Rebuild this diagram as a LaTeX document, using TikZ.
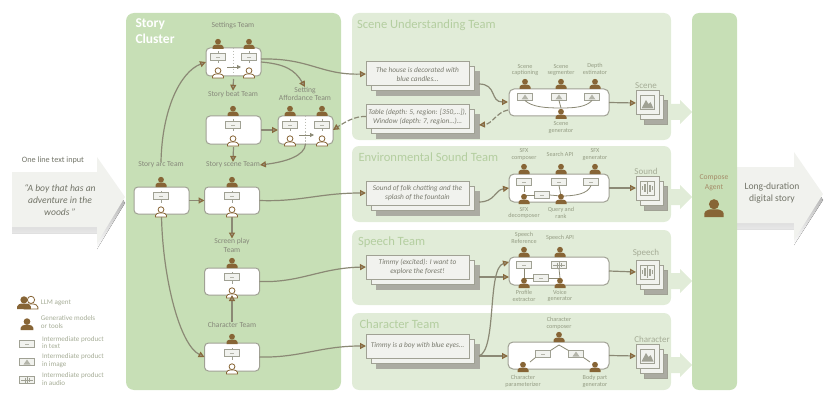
\documentclass[tikz,border=0pt]{standalone}
\usepackage{fontspec}
\setmainfont{Carlito}
\usetikzlibrary{arrows.meta,calc}
\definecolor{cluster}{HTML}{C7DFB6}
\definecolor{panel}{HTML}{E1ECD8}
\definecolor{paneltxt}{HTML}{B4CEA0}
\definecolor{brownc}{HTML}{876536}
\definecolor{linec}{HTML}{8B8975}
\definecolor{framec}{HTML}{A0A194}
\definecolor{paper}{HTML}{F1F2EE}
\definecolor{shade}{HTML}{D9DBD2}
\definecolor{back}{HTML}{ABABA2}
\definecolor{teamtxt}{HTML}{86887A}
\definecolor{tooltxt}{HTML}{959D84}
\tikzset{
  x=1pt,y=-1pt,
  every node/.style={inner sep=0pt,outer sep=0pt,align=center},
  conn/.style={draw=linec,line width=1.2pt,-{Triangle[length=6pt,width=6pt,fill=linec!85!white,color=brownc!85!linec]}},
  thin conn/.style={draw=linec,line width=.8pt},
  tie/.style={draw=framec,line width=.6pt},
  bigpanel/.style={fill=panel,rounded corners=7pt},
  teambox/.style={draw=framec,fill=white,line width=1pt,rounded corners=4pt,minimum width=55pt,minimum height=28pt},
  genbox/.style={draw=framec,fill=white,line width=1pt,rounded corners=5pt,minimum width=100pt,minimum height=28pt},
  teamlab/.style={text=teamtxt,font=\fontsize{7.6}{8.6}\selectfont},
  toollab/.style={text=tooltxt,font=\fontsize{6.2}{6.6}\selectfont},
  paneltitle/.style={anchor=west,text=paneltxt,font=\fontsize{12.6}{14}\selectfont},
  outlab/.style={text=tooltxt!85!white,font=\fontsize{9}{10}\selectfont},
  sheet/.style={draw=framec,line width=1pt,minimum width=103pt,minimum height=24pt},
  outsheet/.style={draw=framec,line width=1pt,minimum width=23pt,minimum height=24pt},
  prod/.style={draw=framec,fill=paper,line width=.8pt,minimum width=15pt,minimum height=7pt},
  storytxt/.style={text=teamtxt!90!black,font=\fontsize{7.35}{9}\selectfont\itshape},
  legtxt/.style={anchor=west,align=left,text=tooltxt!85!white,font=\fontsize{7.1}{7.6}\selectfont},
}
\newcommand{\tool}[3][1]{\begin{scope}[shift={(#2,#3)},scale=#1]
  \fill[brownc] (0,-7.3) circle (2.9);
  \fill[brownc] (-5.5,0) -- (-5.5,-2) .. controls (-5.5,-3.6) and (-3,-4.2) .. (-2,-4.4) -- (2,-4.4) .. controls (3,-4.2) and (5.5,-3.6) .. (5.5,-2) -- (5.5,0) -- cycle;
\end{scope}}
\newcommand{\llm}[3][1]{\begin{scope}[shift={(#2,#3)},scale=#1]
  \filldraw[fill=white,draw=brownc,line width=.8pt] (0,-7.3) circle (2.9);
  \filldraw[fill=white,draw=brownc,line width=.8pt] (-5.5,0) -- (-5.5,-1.6) .. controls (-5.5,-3.2) and (-3,-3.8) .. (-2,-4) -- (2,-4) .. controls (3,-3.8) and (5.5,-3.2) .. (5.5,-1.6) -- (5.5,0) -- cycle;
\end{scope}}
\newcommand{\ptxt}[3]{\node[prod] (#1) at (#2,#3) {};
  \draw[framec!80!white,line width=.5pt] ($(#1)+(-2,0)$) -- ($(#1)+(2,0)$);}
\newcommand{\pimg}[3]{\node[prod] (#1) at (#2,#3) {};
  \fill[framec!80!white] ($(#1)+(-3.5,2.5)$) -- ($(#1)+(0,-2.5)$) -- ($(#1)+(3.5,2.5)$) -- cycle;}
\newcommand{\paud}[3]{\node[prod] (#1) at (#2,#3) {};
  \draw[framec,line width=.5pt] ($(#1)+(-6,0)$) -- ($(#1)+(6,0)$);
  \draw[framec,line width=.9pt] ($(#1)+(-1.5,-2.5)$) -- ($(#1)+(-1.5,2.5)$) ($(#1)+(0.5,-3)$) -- ($(#1)+(0.5,3)$) ($(#1)+(2.5,-2)$) -- ($(#1)+(2.5,2)$);}
\newcommand{\tied}[1]{\draw[tie] (#1.north) -- ++(0,-2) (#1.south) -- ++(0,3);}
\newcommand{\stack}[4]{
  \node[sheet,fill=back,draw=back] (#1c) at ($(#2,#3)+(10,10)$) {};
  \node[sheet,fill=paper] (#1b) at ($(#2,#3)+(5,5)$) {};
  \node[sheet,fill=paper,storytxt] (#1) at (#2,#3) {#4};}
\newcommand{\outstack}[3]{
  \node[outsheet,fill=back,draw=framec] (#1c) at ($(#2,#3)+(8,10)$) {};
  \node[outsheet,fill=paper] (#1b) at ($(#2,#3)+(4,5)$) {};
  \node[outsheet,fill=paper] (#1) at (#2,#3) {};
  \draw[framec,line width=1pt,fill=paper] ($(#1)+(-7,-7)$) rectangle ($(#1)+(7,7)$);}
\newcommand{\outimg}[1]{
  \fill[framec] ($(#1)+(-6,5.5)$) -- ($(#1)+(-1.5,-3)$) -- ($(#1)+(1,1)$) -- ($(#1)+(3,-1)$) -- ($(#1)+(6,5.5)$) -- cycle;}
\newcommand{\outaud}[1]{
  \draw[framec,line width=1.1pt] ($(#1)+(-5,-2)$) -- ($(#1)+(-5,2)$) ($(#1)+(-2.5,-4)$) -- ($(#1)+(-2.5,4)$) ($(#1)+(0,-6)$) -- ($(#1)+(0,6)$) ($(#1)+(2.5,-3.5)$) -- ($(#1)+(2.5,3.5)$) ($(#1)+(5,-2)$) -- ($(#1)+(5,2)$);}
\newcommand{\bigarrow}[1]{
  \fill[panel] (665,#1-8) -- (680,#1-8) -- (680,#1-12) -- (692,#1) -- (680,#1+12) -- (680,#1+8) -- (665,#1+8) -- cycle;}
\begin{document}
\begin{tikzpicture}
\useasboundingbox (0,0) rectangle (831,404);
\fill[shade] (12,178) -- (97,178) -- (97,163) -- (125,203) -- (97,249) -- (97,233) -- (12,233) -- cycle;
\fill[paper] (12,172) -- (97,172) -- (97,157) -- (125,197) -- (97,243) -- (97,227) -- (12,227) -- cycle;
\fill[shade] (737,173) -- (794,173) -- (794,158) -- (823,200) -- (794,245) -- (794,229) -- (737,229) -- cycle;
\fill[paper] (737,167) -- (794,167) -- (794,152) -- (823,194) -- (794,240) -- (794,223) -- (737,223) -- cycle;
\bigarrow{112}\bigarrow{197}\bigarrow{281}\bigarrow{365}
\node[fill=cluster,rounded corners=8pt,minimum width=215pt,minimum height=377pt] (cluster) at (233.5,201.5) {};
\node[bigpanel,minimum width=319pt,minimum height=127pt] (pscene) at (511.5,76.5) {};
\node[bigpanel,minimum width=319pt,minimum height=76pt] (psound) at (511.5,184) {};
\node[bigpanel,minimum width=319pt,minimum height=75pt] (pspeech) at (511.5,267.5) {};
\node[bigpanel,minimum width=319pt,minimum height=77pt] (pchar) at (511.5,351.5) {};
\node[fill=cluster,rounded corners=7pt,minimum width=45pt,minimum height=377pt] (compose) at (714.5,201.5) {};
\node[anchor=north west,align=left,text=white,font=\fontsize{13.5}{16}\bfseries\selectfont] (ctitle) at (135.5,18.5) {Story\\Cluster};
\node[paneltitle] (t1) at (357,25) {Scene Understanding Team};
\node[paneltitle] (t2) at (358.5,157) {Environmental Sound Team};
\node[paneltitle] (t3) at (358,242) {Speech Team};
\node[paneltitle] (t4) at (359.5,324) {Character Team};
\node[text=teamtxt!85!black,font=\fontsize{8.2}{9}\selectfont] (inlab) at (53,160) {One line text input};
\node[text=teamtxt!85!black,font=\fontsize{9.6}{12}\selectfont\itshape] (intxt) at (60,200) {“A boy that has an\\adventure in the\\woods ”};
\node[text=teamtxt!85!black,font=\fontsize{9.6}{12}\selectfont] (outtxt) at (772,193) {Long-duration\\digital story};
\node[text=brownc!75!white,font=\fontsize{7.6}{10.2}\selectfont] (comptxt) at (714,183) {Compose\\Agent};
\tool[1.75]{714}{217}
\node[teamlab] (lset) at (233,26) {Settings Team};
\node[teamlab] (lbeat) at (233,94) {Story beat Team};
\node[teamlab] (laff) at (305,94) {Setting\\Affordance Team};
\node[teamlab] (larc) at (161,165) {Story arc Team};
\node[teamlab] (lscene) at (233,165) {Story scene Team};
\node[teamlab] (lplay) at (232,245.5) {Screen play\\Team};
\node[teamlab] (lchar) at (232,325) {Character Team};
\node[teambox] (settings) at (233.5,62) {};
\node[teambox] (beat) at (233.5,130) {};
\node[teambox] (aff) at (305.5,130) {};
\node[teambox,minimum height=27pt] (arc) at (161.5,200.5) {};
\node[teambox,minimum height=27pt] (scenet) at (232,200.5) {};
\node[teambox,minimum height=27pt] (play) at (232,281.5) {};
\node[teambox] (chart) at (232,357) {};
\draw[framec!70!white,line width=.6pt,dash pattern=on 1.5pt off 1.5pt] (settings.north) -- (settings.south);
\draw[framec!70!white,line width=.6pt,dash pattern=on 1.5pt off 1.5pt] (aff.north) -- (aff.south);
\tool{218}{49}\tool{249}{49}
\ptxt{s1}{218}{57}\ptxt{s2}{249}{57}\tied{s1}\tied{s2}
\llm{218}{78}\llm{249}{78}
\coordinate (s1a) at (227,67); \coordinate (s2a) at (241,67);
\draw[thin conn,-{Triangle[length=4pt,width=4pt]}] (s1a) -- (s2a);
\tool{233}{116}\ptxt{b1}{233}{125}\tied{b1}\llm{233}{146}
\tool{290}{116}\tool{322}{116}
\ptxt{a1}{290}{125}\ptxt{a2}{322}{125}\tied{a1}\tied{a2}
\llm{290}{146}\llm{322}{146}
\coordinate (a1a) at (299,135); \coordinate (a2a) at (314,135);
\draw[thin conn,-{Triangle[length=4pt,width=4pt]}] (a1a) -- (a2a);
\tool{161}{187}\ptxt{c1}{161}{196}\tied{c1}\llm{161}{217}
\tool{232}{187}\ptxt{c2}{232}{196}\tied{c2}\llm{232}{217}
\tool{232}{268}\ptxt{c3}{232}{277}\tied{c3}\llm{232}{298}
\tool{232}{344}\ptxt{c4}{232}{353}\tied{c4}\llm{232}{374}
\stack{d1}{417.5}{74}{The house is decorated with\\blue candles…}
\stack{d2}{417.5}{116.5}{Table (depth: 5, region: [350,…]),\\Window (depth: 7, region…)…}
\stack{d3}{417.5}{193}{Sound of folk chatting and the\\splash of the fountain}
\stack{d4}{417.5}{267}{Timmy (excited): I want to\\explore the forest!}
\stack{d5}{417.5}{346}{Timmy is a boy with blue eyes…}
\node[genbox,minimum height=27pt] (g1) at (559,102.5) {};
\node[genbox] (g2) at (559,188) {};
\node[genbox] (g3) at (559,271) {};
\node[genbox,minimum width=101pt,minimum height=27pt] (g4) at (558.5,355.5) {};
\node[outlab] (o1l) at (646,86) {Scene};
\node[outlab] (o2l) at (646,171) {Sound};
\node[outlab] (o3l) at (646,253) {Speech};
\node[outlab] (o4l) at (652,339) {Character};
\outstack{o1}{647.5}{103}\outimg{o1}
\outstack{o2}{647.5}{188}\outaud{o2}
\outstack{o3}{647.5}{272}\outaud{o3}
\outstack{o4}{647.5}{356}\outimg{o4}
\pimg{p11}{525}{97}\pimg{p12}{559}{97}\pimg{p13}{592}{97}
\coordinate (sg) at (561,108);
\draw[thin conn] (p11.south) .. controls (532,107) and (545,108) .. (sg);
\draw[thin conn] (p13.south) .. controls (586,107) and (575,108) .. (sg);
\draw[thin conn] (p12.south) -- (sg);
\tool{525}{89}\tool{561}{89}\tool{595}{89}\tool{561}{119}
\node[toollab] at (525,70) {Scene\\captioning};
\node[toollab] at (561,70) {Scene\\segmenter};
\node[toollab] at (595,69) {Depth\\estimator};
\node[toollab] at (561,127.5) {Scene\\generator};
\ptxt{p21}{524}{182}\ptxt{p22}{559}{182}\ptxt{p23}{591}{182}\ptxt{p24}{542}{195}
\coordinate (q1) at (524,192); \coordinate (q2) at (561,196);
\draw[thin conn] (p21.south) -- (q1);
\draw[thin conn] (q1 |- p24) -- (p24.west);
\draw[thin conn] (p24.east) -- (q2);
\draw[thin conn] (p22.south) -- (q2);
\draw[thin conn] (q2) .. controls (575,196) and (588,194) .. (p23.south);
\tool{524}{174}\tool{561}{174}\tool{595}{174}\tool{524}{204}\tool{561}{204}
\node[toollab] at (524,154.5) {SFX\\composer};
\node[toollab] at (560,154) {Search API};
\node[toollab] at (595,154.5) {SFX\\generator};
\node[toollab] at (524,213) {SFX\\decomposer};
\node[toollab] at (561,213) {Query and\\rank};
\ptxt{p31}{524}{265}\paud{p32}{559}{265}\ptxt{p33}{541}{278}
\coordinate (v1) at (524,278); \coordinate (v2) at (560,278);
\draw[thin conn] (p31.south) -- (v1);
\draw[thin conn] (p32.south) -- (v2);
\draw[thin conn] (v1) -- (p33.west);
\draw[thin conn] (p33.east) -- (v2);
\tool{524}{257}\tool{560}{257}\tool{524}{288}\tool{560}{288}
\node[toollab] at (524,238) {Speech\\Reference};
\node[toollab] at (560,238) {Speech API};
\node[toollab] at (524,296) {Profile\\extractor};
\node[toollab] at (560,296) {Voice\\generator};
\ptxt{p41}{543}{354}\pimg{p42}{576}{354}
\coordinate (k1) at (530,362); \coordinate (k2) at (559,345); \coordinate (k3) at (590,362);
\draw[thin conn] (k1) -- (p41.south west);
\draw[thin conn] (p41.north east) -- (k2);
\draw[thin conn] (k2) -- (p42.north west);
\draw[thin conn] (p42.south east) -- (k3);
\tool{559}{342}\tool{523}{372}\tool{595}{372}
\node[toollab] at (559,323.5) {Character\\composer};
\node[toollab] at (523,381.5) {Character\\parameterizer};
\node[toollab] at (595,381.5) {Body part\\generator};
% connectors in the cluster (those leaving a box from below start under its agent)
\draw[conn] ($(settings.south)+(0,3)$) -- (lbeat.north);
\draw[conn] ($(beat.south)+(0,3)$) -- (lscene.north);
\draw[conn] (beat.east) -- (aff.west);
\draw[conn] (settings.east) .. controls (285,64) and (295,70) .. (laff.north);
\draw[conn] (aff.south) .. controls (305,156) and (285,162) .. (lscene.east);
\draw[conn] (larc.north) .. controls (162,110) and (180,72) .. (settings.west);
\draw[conn] (arc.east) -- (scenet.west);
\draw[conn] ($(scenet.south)+(0,3)$) -- (lplay.north);
\draw[conn] (lchar.north) -- (play.south);
\draw[conn] ($(arc.south)+(0,3)$) .. controls (163,280) and (180,345) .. (chart.west);
\draw[conn] ($(settings.east)+(0,-3)$) .. controls (310,58) and (320,75) .. (d1.west);
\draw[conn,dash pattern=on 5pt off 2pt] (d2.west) .. controls (355,116) and (345,122) .. (aff.east);
\draw[conn] (scenet.east) .. controls (300,202) and (320,193) .. (d3.west);
\draw[conn] (play.east) .. controls (300,283) and (320,268) .. (d4.west);
\draw[conn] (chart.east) .. controls (300,358) and (320,346) .. (d5.west);
\coordinate (e1) at (479,84);
\coordinate (e1t) at (508,102);
\coordinate (e2) at (508,110);
\coordinate (e2t) at (479,125);
\coordinate (e3) at (479,202);
\coordinate (e3t) at (509,188);
\coordinate (e4) at (479,277);
\coordinate (e5) at (479,356);
\draw[conn] (e1) .. controls (497,84) and (490,102) .. (e1t);
\draw[conn,dash pattern=on 5pt off 2pt] (e2) .. controls (497,112) and (492,124) .. (e2t);
\draw[conn] (e3) .. controls (495,202) and (495,190) .. (e3t);
\draw[conn] (e4) -- (e4 -| g3.west);
\draw[conn] (e5) -- (e5 -| g4.west);
\draw[conn] (e5) .. controls (497,350) and (487,268) .. (509,262);
\draw[conn] (g1.east) -- (o1.west);
\draw[conn] (g2.east) -- (o2.west);
\draw[conn] (g3.east) -- (o3.west);
\draw[conn] (g4.east) -- (o4.west);
\llm[1.25]{31}{309}\tool[1.25]{24}{309}
\tool[1.15]{27}{330}
\ptxt{l1}{27}{344}\pimg{l2}{27}{362}\paud{l3}{27}{380}
\node[legtxt] (lt0) at (41,302.5) {LLM agent};
\node[legtxt] (lt1) at (41,322) {Generative models\\or tools};
\node[legtxt] (lt2) at (42,342.5) {Intermediate product\\in text};
\node[legtxt] (lt3) at (42,360.5) {Intermediate product\\in image};
\node[legtxt] (lt4) at (42,379) {Intermediate product\\in audio};
\end{tikzpicture}
\end{document}
